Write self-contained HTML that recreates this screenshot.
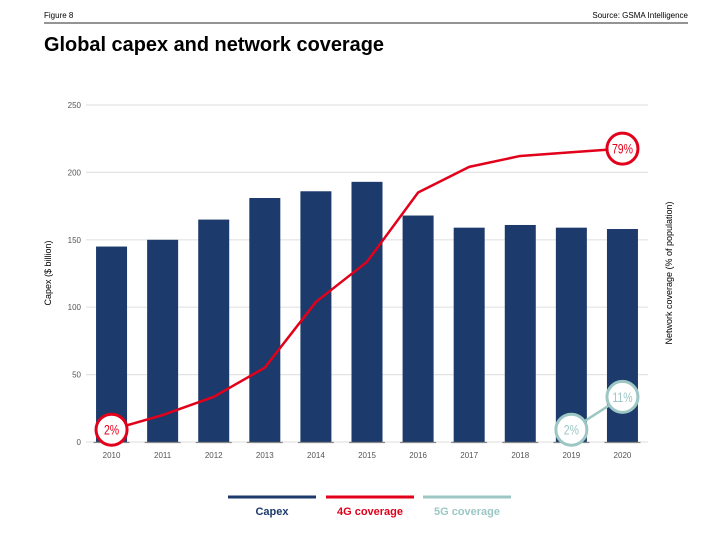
<!DOCTYPE html>
<html><head><meta charset="utf-8"><style>
body{margin:0;background:#fff;font-family:"Liberation Sans",sans-serif;}
#wrap{position:relative;width:709px;height:542px;overflow:hidden;}
</style></head><body>
<div id="wrap">
<svg id="chart" width="709" height="542" xmlns="http://www.w3.org/2000/svg">
<text x="44" y="18" font-size="8" fill="#000">Figure 8</text>
<text x="688" y="18" font-size="8" fill="#000" text-anchor="end">Source: GSMA Intelligence</text>
<line x1="44" y1="23" x2="688" y2="23" stroke="#555" stroke-width="1.2"/>
<text x="44" y="51" font-size="20" font-weight="bold" fill="#000" textLength="340" lengthAdjust="spacingAndGlyphs">Global capex and network coverage</text>
<text transform="translate(51,273) rotate(-90)" font-size="9" text-anchor="middle" fill="#000">Capex ($ billion)</text>
<text transform="translate(672,273) rotate(-90)" font-size="9" text-anchor="middle" fill="#000">Network coverage (% of population)</text>
<g id="grid"></g><g id="bars"></g><g id="lines"></g><g id="xt"></g>
<g>
<line x1="228" y1="497" x2="316" y2="497" stroke="#1c3a6b" stroke-width="3"/>
<text x="272" y="515" font-size="11" font-weight="bold" fill="#1c3a6b" text-anchor="middle">Capex</text>
<line x1="326" y1="497" x2="414" y2="497" stroke="#e2001a" stroke-width="3"/>
<text x="370" y="515" font-size="11" font-weight="bold" fill="#e2001a" text-anchor="middle">4G coverage</text>
<line x1="423" y1="497" x2="511" y2="497" stroke="#9cc7c4" stroke-width="3"/>
<text x="467" y="515" font-size="11" font-weight="bold" fill="#9cc7c4" text-anchor="middle">5G coverage</text>
</g>
</svg>
</div>
<script>
const years=["2010","2011","2012","2013","2014","2015","2016","2017","2018","2019","2020"];
const capex=[145,150,165,181,186,193,168,159,161,159,158];
const cov4g=[2,6,11,19,37,48,67,74,77,78,79];
const cov5g=[null,null,null,null,null,null,null,null,null,2,11];
const yTicks=[0,50,100,150,200,250];
const NS="http://www.w3.org/2000/svg";
const x0=86,x1=648,yb=442,yt=105;
const step=(x1-x0)/years.length;
const xc=i=>x0+step*(i+0.5);
const yL=v=>yb-(v/250)*(yb-yt);
const yR=v=>yb-5-v*3.65;
function mk(t,a,p){const e=document.createElementNS(NS,t);for(const k in a)e.setAttribute(k,a[k]);p.appendChild(e);return e;}
const g=document.getElementById('grid'),b=document.getElementById('bars'),l=document.getElementById('lines'),xt=document.getElementById('xt');
yTicks.forEach(v=>{
 const ln=mk('line',{x1:x0,x2:x1,y1:yL(v),y2:yL(v),stroke:'#e3e3e3','stroke-width':1.2},g);
 
 
 const t=mk('text',{x:81,y:yL(v)+3,'font-size':8,'text-anchor':'end',fill:'#555'},g);
 t.textContent=v;
 
 
});
capex.forEach((v,i)=>{
 const r=mk('rect',{x:xc(i)-15.5,y:yL(v),width:31,height:yb-yL(v),fill:'#1c3a6b'},b);
 
 
 const bl=mk('line',{x1:xc(i)-18,x2:xc(i)+18,y1:yb+0.5,y2:yb+0.5,stroke:'#888','stroke-width':1.2},b);
 
 
 const t=mk('text',{x:xc(i),y:458,'font-size':8,'text-anchor':'middle',fill:'#555'},xt);
 t.textContent=years[i];
 
 
});
function series(vals,color,name){
 const pts=[];vals.forEach((v,i)=>{if(v!==null)pts.push([xc(i),yR(v),v]);});
 const p=mk('polyline',{points:pts.map(q=>q[0]+','+q[1]).join(' '),fill:'none',stroke:color,'stroke-width':2.5,'stroke-linejoin':'round'},l);
 
 
 return pts;
}
function badge(pt,color,name){
 const c=mk('circle',{cx:pt[0],cy:pt[1],r:15.5,fill:'#fff',stroke:color,'stroke-width':3},l);
 
 
 const t=mk('text',{x:pt[0],y:pt[1]+5,'font-size':14,'text-anchor':'middle',fill:color,'font-family':'Liberation Sans Narrow, Liberation Sans, sans-serif'},l);
 t.setAttribute('transform',`translate(${pt[0]},0) scale(0.75,1) translate(${-pt[0]},0)`);
 t.textContent=pt[2]+'%';
 
 
}
const p4=series(cov4g,'#e2001a','4g-coverage');
const p5=series(cov5g,'#9cc7c4','5g-coverage');
badge(p4[0],'#e2001a','4g-start-badge');
badge(p4[p4.length-1],'#e2001a','4g-end-badge');
badge(p5[0],'#9cc7c4','5g-start-badge');
badge(p5[p5.length-1],'#9cc7c4','5g-end-badge');
</script>
</body></html>
